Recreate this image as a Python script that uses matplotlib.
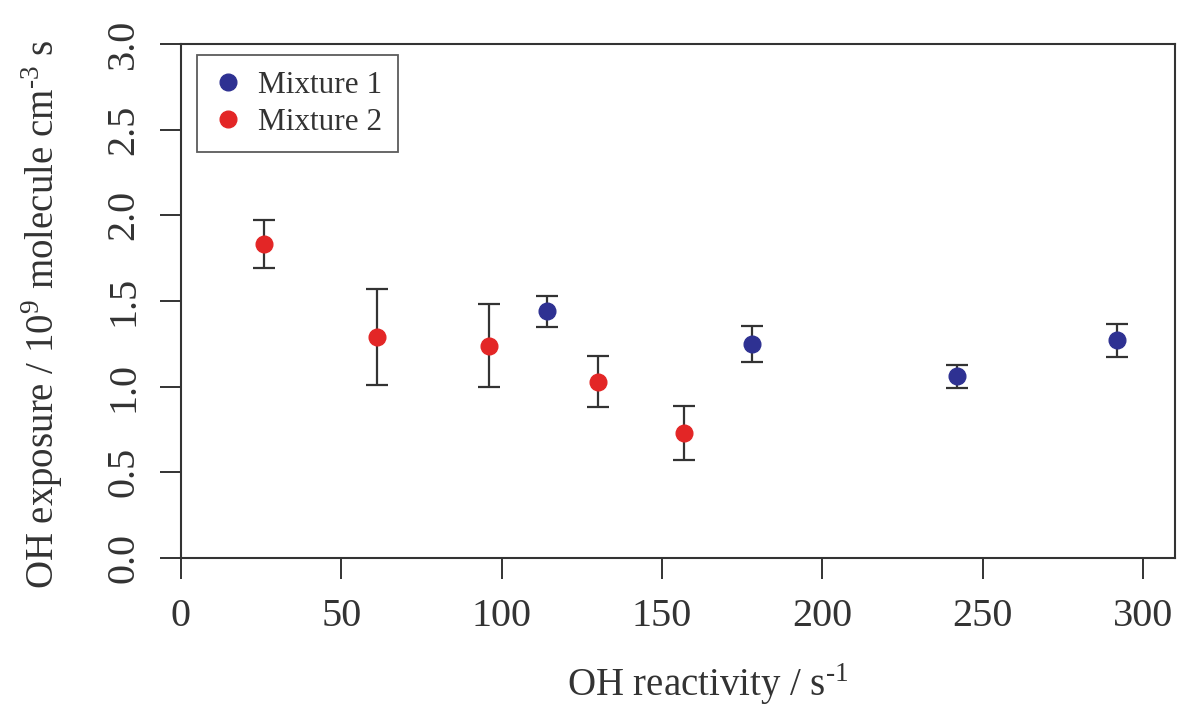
import matplotlib.pyplot as plt

plt.rcParams['font.family'] = ['Liberation Serif', 'DejaVu Serif']
plt.rcParams['mathtext.fontset'] = 'custom'
plt.rcParams['mathtext.rm'] = 'Liberation Serif'

# Mixture 1 (blue)
mix1_x = [114, 178, 242, 292]
mix1_y = [1.44, 1.25, 1.06, 1.27]
mix1_err = [0.09, 0.105, 0.065, 0.095]

# Mixture 2 (red)
mix2_x = [26, 61, 96, 130, 157]
mix2_y = [1.83, 1.29, 1.24, 1.03, 0.73]
mix2_err = [0.14, 0.28, 0.24, 0.15, 0.16]

x_ticks = [0, 50, 100, 150, 200, 250, 300]
y_ticks = [0.0, 0.5, 1.0, 1.5, 2.0, 2.5, 3.0]

blue = '#2e3192'
red = '#e32626'
dark = '#333333'

fig = plt.figure(figsize=(11.87, 7.09), dpi=100)
ax = fig.add_axes([181 / 1187, 1 - 558 / 709, (1175 - 181) / 1187, (558 - 44) / 709])

ax.errorbar(mix1_x, mix1_y, yerr=mix1_err, fmt='none', ecolor=dark,
            elinewidth=1.6, capsize=8, capthick=1.6, zorder=2)
ax.errorbar(mix2_x, mix2_y, yerr=mix2_err, fmt='none', ecolor=dark,
            elinewidth=1.6, capsize=8, capthick=1.6, zorder=2)
ax.plot(mix1_x, mix1_y, 'o', color=blue, markersize=12, label='Mixture 1', zorder=3)
ax.plot(mix2_x, mix2_y, 'o', color=red, markersize=12, label='Mixture 2', zorder=3)

ax.set_xlim(0, 310)
ax.set_ylim(0, 3.0)
ax.set_xticks(x_ticks)
ax.set_yticks(y_ticks)
ax.set_xticklabels([str(v) for v in x_ticks])
ax.set_yticklabels(['%.1f' % v for v in y_ticks], rotation=90, va='center')
ax.tick_params(direction='out', length=15, width=1.4, color=dark,
               labelsize=29, labelcolor=dark)
ax.tick_params(axis='x', pad=14)
ax.tick_params(axis='y', pad=13)
for s in ax.spines.values():
    s.set_color(dark)
    s.set_linewidth(1.5)

ax.set_xlabel(r'OH reactivity / s$^{\text{-}1}$', fontsize=28, color=dark)
ax.xaxis.set_label_coords(0.53, -0.2)
ax.set_ylabel(r'OH exposure / 10$^{9}$ molecule cm$^{\text{-}3}$ s', fontsize=28,
              color=dark)
ax.yaxis.set_label_coords(-0.117, 0.475)

leg = ax.legend(loc='upper left', fontsize=22.5, frameon=True, fancybox=False,
                handletextpad=0.45, handlelength=1.0, borderpad=0.5,
                labelspacing=0.25, borderaxespad=0, bbox_to_anchor=(0.016, 0.978))
leg.get_frame().set_edgecolor(dark)
leg.get_frame().set_linewidth(1.3)
for t in leg.get_texts():
    t.set_color(dark)

fig.savefig('out.png', dpi=100)
